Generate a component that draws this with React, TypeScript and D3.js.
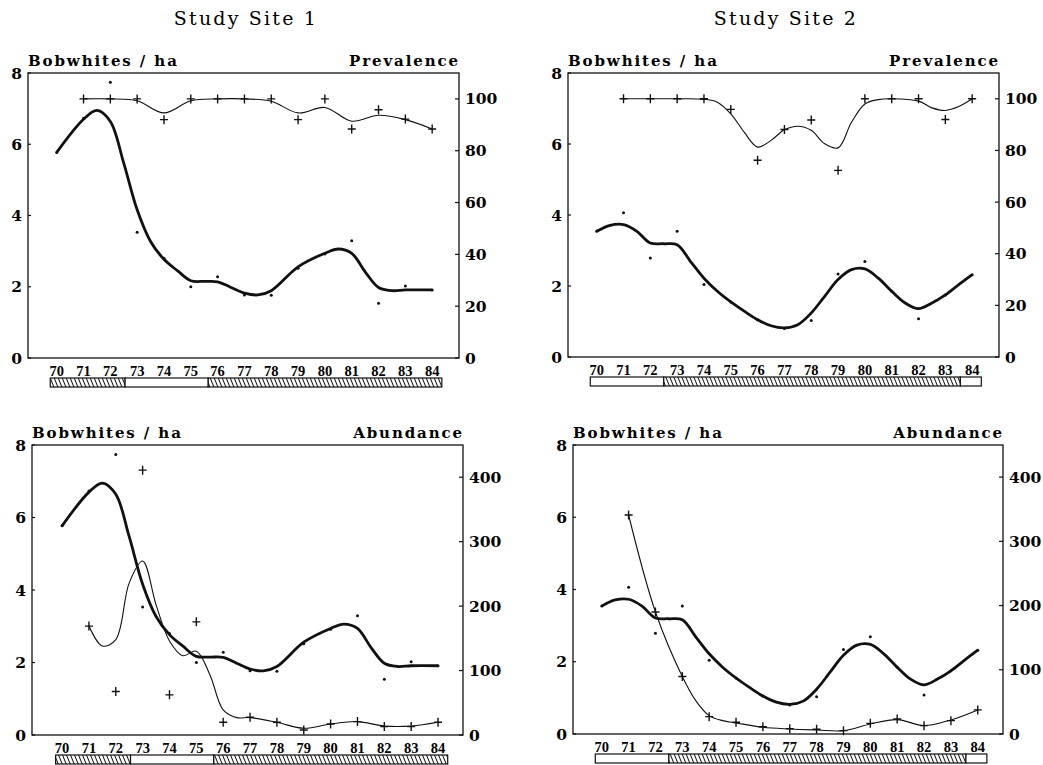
import React from 'react';
import * as d3 from 'd3';

// survey years
const years = [70, 71, 72, 73, 74, 75, 76, 77, 78, 79, 80, 81, 82, 83, 84];
const diseaseYears = [71, 72, 73, 74, 75, 76, 77, 78, 79, 80, 81, 82, 83, 84];

// Study Site 1 - bobwhites / ha (dots) and the smoothed curve
const site1Density = [5.77, 6.73, 7.74, 3.53, 2.8, 2.0, 2.28, 1.77, 1.76, 2.52, 2.92, 3.29, 1.54, 2.02, 1.91];
const site1DensityFitYears = [70, 71, 71.5, 72, 72.5, 73, 73.5, 74, 74.5, 75, 75.5, 76, 76.5, 77, 77.5, 78, 79, 80, 80.5, 81, 81.5, 82, 82.5, 83, 84];
const site1DensityFit = [5.77, 6.7, 6.95, 6.64, 5.47, 4.16, 3.27, 2.77, 2.45, 2.17, 2.15, 2.14, 1.98, 1.82, 1.77, 1.89, 2.56, 2.94, 3.06, 2.94, 2.42, 1.98, 1.89, 1.91, 1.91];

// Study Site 1 - prevalence (%) and abundance
const site1Prevalence = [100, 100, 100, 92, 100, 100, 100, 100, 92, 100, 88.4, 95.8, 92.2, 88.4];
const site1PrevalenceFit = [100, 100, 99.3, 94.6, 99.3, 100, 100, 99.1, 94.6, 96.7, 91.4, 93.7, 92.0, 88.4];
const site1Abundance = [169, 67.5, 411, 62.3, 175.6, 19.7, 27.5, 19.7, 7.8, 17.1, 20.8, 13, 13, 19.7];
const site1AbundanceFitYears = [71, 71.5, 72, 72.5, 73, 73.5, 74, 74.5, 75, 75.5, 76, 76.5, 77, 78, 79, 80, 81, 82, 83, 84];
const site1AbundanceFit = [169, 138, 148, 236, 270, 202, 146, 123, 130, 94, 39, 27, 27, 19.7, 10.4, 17, 20.8, 14, 14, 19.7];

// Study Site 2
const site2Density = [3.54, 4.06, 2.79, 3.54, 2.04, 1.55, 1.05, 0.8, 1.03, 2.34, 2.69, 1.85, 1.08, 1.75, 2.32];
const site2DensityFitYears = [70, 70.5, 71, 71.5, 72, 72.5, 73, 73.5, 74, 74.5, 75, 75.5, 76, 76.5, 77, 77.5, 78, 78.5, 79, 79.5, 80, 80.5, 81, 81.5, 82, 82.5, 83, 83.5, 84];
const site2DensityFit = [3.54, 3.71, 3.73, 3.54, 3.21, 3.19, 3.16, 2.69, 2.22, 1.85, 1.55, 1.29, 1.05, 0.88, 0.82, 0.91, 1.24, 1.71, 2.18, 2.46, 2.48, 2.22, 1.85, 1.52, 1.36, 1.52, 1.75, 2.04, 2.32];

const site2Prevalence = [100, 100, 100, 100, 95.9, 76.2, 88.1, 91.8, 72.3, 100, 100, 100, 92.0, 100];
const site2PrevalenceFitYears = [71, 72, 73, 74, 74.5, 75, 75.5, 76, 76.5, 77, 77.5, 78, 78.5, 79, 79.5, 80, 80.5, 81, 82, 82.5, 83, 83.5, 84];
const site2PrevalenceFit = [100, 100, 100, 99.8, 98.7, 94.2, 87.1, 81.3, 83.9, 88.0, 89.4, 87.8, 82.6, 81.0, 90.9, 98.0, 99.7, 100, 99.1, 96.5, 95.5, 97.0, 100];
const site2Abundance = [341, 190, 89.5, 27, 18.2, 11.4, 8.3, 7.3, 5.2, 16.6, 23.4, 13, 20.8, 37.5];
const site2AbundanceFitYears = [71, 72, 73, 73.5, 74, 74.5, 75, 76, 77, 78, 79, 80, 81, 82, 83, 84];
const site2AbundanceFit = [341, 190, 89.5, 52, 28.6, 20.8, 17.2, 10.4, 7.8, 6.3, 5.2, 15.6, 22.4, 13, 21.9, 37.5];

// treatment periods under the year axis: [from, to, hatched]
const site1Periods: [number, number, boolean][] = [[69.76, 72.55, true], [72.55, 75.65, false], [75.65, 84.36, true]];
const site2Periods: [number, number, boolean][] = [[69.76, 72.5, false], [72.5, 83.56, true], [83.56, 84.34, false]];

const densityTicks = [0, 2, 4, 6, 8];
const prevalenceTicks = [0, 20, 40, 60, 80, 100];
const abundanceTicks = [0, 100, 200, 300, 400];

const SERIF = '"DejaVu Serif", "Liberation Serif", serif';
const NARROW = '"Liberation Serif", serif';

type PanelProps = {
  left: number; top: number; width: number; height: number;
  xDomain: [number, number];
  rightLabel: string; rightMax: number; rightTicks: number[];
  density: number[]; fitYears: number[]; fit: number[];
  second: number[]; secondFitYears: number[]; secondFit: number[];
  periods: [number, number, boolean][];
};

function Panel(p: PanelProps) {
  const x = d3.scaleLinear().domain(p.xDomain).range([p.left, p.left + p.width]);
  const yL = d3.scaleLinear().domain([0, 8]).range([p.top + p.height, p.top]);
  const yR = d3.scaleLinear().domain([0, p.rightMax]).range([p.top + p.height, p.top]);
  const bottom = p.top + p.height;
  const right = p.left + p.width;

  const thick = d3.line<number>()
    .x((_, i) => x(p.fitYears[i]))
    .y(d => yL(d))
    .curve(d3.curveCatmullRom.alpha(0.5));
  const thin = d3.line<number>()
    .x((_, i) => x(p.secondFitYears[i]))
    .y(d => yR(d))
    .curve(d3.curveCatmullRom.alpha(0.5));

  return (
    <g>
      <text x={p.left} y={p.top - 7} fontFamily={SERIF} fontWeight="bold" fontSize={15} letterSpacing={1.9}>
        Bobwhites / ha
      </text>
      <text x={right + 1} y={p.top - 7} textAnchor="end" fontFamily={SERIF} fontWeight="bold" fontSize={15} letterSpacing={1.9}>
        {p.rightLabel}
      </text>
      <rect x={p.left} y={p.top} width={p.width} height={p.height} fill="none" stroke="#111" strokeWidth={1.3} />

      {densityTicks.map(t => (
        <g key={'l' + t}>
          <line x1={p.left} x2={p.left + 3} y1={yL(t)} y2={yL(t)} stroke="#111" strokeWidth={1.2} />
          <text x={p.left - 6} y={yL(t)} dy="0.36em" textAnchor="end" fontFamily={SERIF} fontWeight="bold" fontSize={15.5}>{t}</text>
        </g>
      ))}
      {p.rightTicks.map(t => (
        <g key={'r' + t}>
          <line x1={right - 4} x2={right} y1={yR(t)} y2={yR(t)} stroke="#111" strokeWidth={1.2} />
          <text x={right + 6} y={yR(t)} dy="0.36em" fontFamily={SERIF} fontWeight="bold" fontSize={15.5}>{t}</text>
        </g>
      ))}
      {years.map(yr => (
        <text key={'x' + yr} x={x(yr)} y={bottom + 18} textAnchor="middle" fontFamily={NARROW} fontWeight="bold" fontSize={14.5}>
          {yr}
        </text>
      ))}

      {p.periods.map(([a, b, h], i) => (
        <rect key={'p' + i} x={x(a)} y={bottom + 20} width={x(b) - x(a)} height={9}
          fill={h ? 'url(#hatch)' : '#fff'} stroke="#111" strokeWidth={1.2} />
      ))}

      <path d={thin(p.secondFit) || ''} fill="none" stroke="#111" strokeWidth={1.1} />
      <path d={thick(p.fit) || ''} fill="none" stroke="#111" strokeWidth={2.8} strokeLinejoin="round" />

      {p.density.map((d, i) => (
        <circle key={'d' + i} cx={x(years[i])} cy={yL(d)} r={1.5} fill="#111" />
      ))}
      {p.second.map((d, i) => (
        <path key={'c' + i}
          d={`M${x(diseaseYears[i]) - 4},${yR(d)}h8M${x(diseaseYears[i])},${yR(d) - 4.5}v9`}
          stroke="#111" strokeWidth={1.4} fill="none" />
      ))}
    </g>
  );
}

export default function App() {
  return (
    <svg width={1043} height={765} style={{ position: 'absolute', left: 0, top: 0, background: '#fff' }}>
      <defs>
        <pattern id="hatch" width={4} height={10} patternUnits="userSpaceOnUse" patternTransform="skewX(22)">
          <rect width={4} height={10} fill="#fff" />
          <line x1={1.5} y1={0} x2={1.5} y2={10} stroke="#111" strokeWidth={1.1} />
        </pattern>
      </defs>
      <rect width={1043} height={765} fill="#fff" />

      <text x={246} y={25} textAnchor="middle" fontFamily={SERIF} fontSize={19} letterSpacing={2.2}>Study Site 1</text>
      <text x={786} y={25} textAnchor="middle" fontFamily={SERIF} fontSize={19} letterSpacing={2.2}>Study Site 2</text>

      <Panel left={28} top={73} width={431} height={285} xDomain={[68.93, 85.0]}
        rightLabel="Prevalence" rightMax={110} rightTicks={prevalenceTicks}
        density={site1Density} fitYears={site1DensityFitYears} fit={site1DensityFit}
        second={site1Prevalence} secondFitYears={diseaseYears} secondFit={site1PrevalenceFit}
        periods={site1Periods} />
      <Panel left={568} top={73} width={431} height={284} xDomain={[68.93, 85.0]}
        rightLabel="Prevalence" rightMax={110} rightTicks={prevalenceTicks}
        density={site2Density} fitYears={site2DensityFitYears} fit={site2DensityFit}
        second={site2Prevalence} secondFitYears={site2PrevalenceFitYears} secondFit={site2PrevalenceFit}
        periods={site2Periods} />
      <Panel left={32} top={445} width={431} height={290} xDomain={[68.88, 84.93]}
        rightLabel="Abundance" rightMax={450} rightTicks={abundanceTicks}
        density={site1Density} fitYears={site1DensityFitYears} fit={site1DensityFit}
        second={site1Abundance} secondFitYears={site1AbundanceFitYears} secondFit={site1AbundanceFit}
        periods={site1Periods} />
      <Panel left={573} top={445} width={430} height={289} xDomain={[68.93, 84.94]}
        rightLabel="Abundance" rightMax={450} rightTicks={abundanceTicks}
        density={site2Density} fitYears={site2DensityFitYears} fit={site2DensityFit}
        second={site2Abundance} secondFitYears={site2AbundanceFitYears} secondFit={site2AbundanceFit}
        periods={site2Periods} />
    </svg>
  );
}
